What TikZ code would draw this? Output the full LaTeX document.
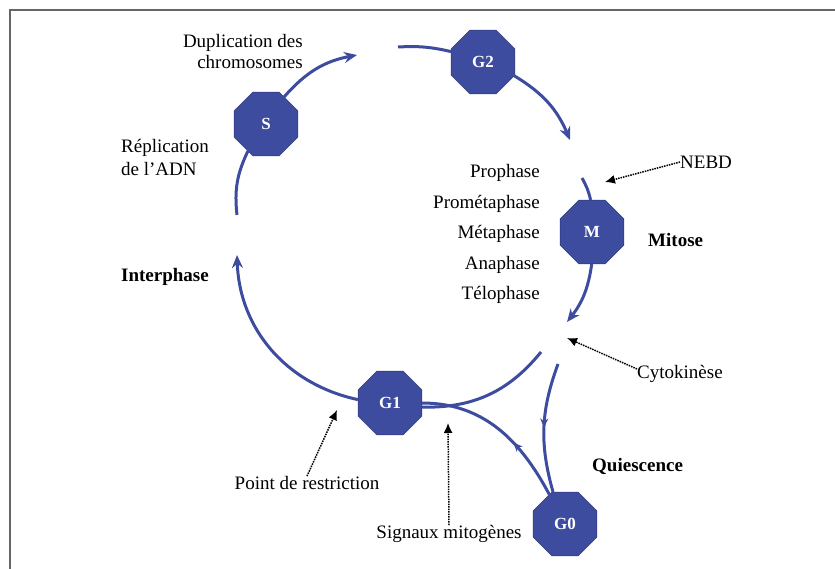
\documentclass[tikz,border=0pt]{standalone}
\usepackage{tikz}
\usepackage{xcolor}
\usepackage{fontspec}
\setmainfont{Liberation Serif}
\usetikzlibrary{arrows.meta,shapes.geometric,decorations.markings}

\definecolor{cycleblue}{RGB}{62,76,160}

\begin{document}
\begin{tikzpicture}[
		x=1pt, y=1pt,
		phase/.style={regular polygon, regular polygon sides=8, minimum size=69pt, inner sep=0pt,
				fill=cycleblue, draw=cycleblue!70!black, text=white, font=\fontsize{17}{20}\selectfont\bfseries},
		txt/.style={inner sep=0pt, font=\fontsize{19}{21}\selectfont},
		boldtxt/.style={inner sep=0pt, font=\fontsize{19}{21}\selectfont\bfseries},
		link/.style={draw=cycleblue, line width=3pt},
		flow/.style={link, -{Stealth[length=13pt,width=11pt]}},
		midarrow/.style={link, postaction={decorate},
				decoration={markings, mark=at position #1 with {\arrow{Stealth[length=9pt,width=8pt]}}}},
		pointer/.style={draw=black, densely dotted, line width=1.5pt, -{Latex[length=10pt,width=9pt]}}
	]
		\useasboundingbox (0,0) rectangle (835,-569);
		\draw[black!60, line width=2pt] (835,-10) -| (10,-569);

		% the phases
		\node[phase] (S) at (266,-124) {S};
		\node[phase] (G2) at (483,-62) {G2};
		\node[phase] (M) at (592,-232) {M};
		\node[phase] (G1) at (390,-403) {G1};
		\node[phase] (G0) at (565,-524) {G0};

		% free ends of the cycle
		\coordinate (sEnd) at (357,-55);
		\coordinate (g2Start) at (398,-47);
		\coordinate (g2End) at (570,-140);
		\coordinate (mStart) at (582,-178);
		\coordinate (mEnd) at (567,-322);
		\coordinate (g1Start) at (541,-352);
		\coordinate (g0Start) at (558,-364);
		\coordinate (g1End) at (237,-255);
		\coordinate (sStart) at (237,-215);

		\draw[flow] (S) to[bend left=19] (sEnd);
		\draw[link] (g2Start) to[bend left=8] (G2);
		\draw[flow] (G2) to[bend left=18] (g2End);
		\draw[link] (mStart) to[bend left=8] (M);
		\draw[flow] (M) to[bend left=15] (mEnd);
		\draw[link] (g1Start) to[bend left=26] (G1);
		\draw[flow] (G1) to[bend left=38] (g1End);
		\draw[link] (sStart) to[bend left=16] (S);
		\draw[midarrow=0.5] (g0Start) to[bend right=18] (G0);
		\draw[midarrow=0.38] (G0) to[out=118,in=0] (G1.east);

		% labels
		\node[txt, anchor=east, align=right] (dupl) at (303,-52) {Duplication des\\chromosomes};
		\node[txt, anchor=west, align=left] (repl) at (121,-157) {Réplication\\[2pt]de l'ADN};
		\node[boldtxt, anchor=west] (inter) at (121,-277) {Interphase};
		\node[boldtxt, anchor=west] (mitose) at (648,-240) {Mitose};
		\node[boldtxt, anchor=west] (quies) at (592,-466) {Quiescence};
		\foreach \stage [count=\i] in {Prophase, Prométaphase, Métaphase, Anaphase, Télophase}
			\node[txt, anchor=base east] (stage\i) at (540,-147.5-30.5*\i) {\stage};

		\node[txt, anchor=west] (nebd) at (680,-162) {NEBD};
		\node[txt, anchor=west] (cyto) at (637,-374) {Cytokinèse};
		\node[txt] (restr) at (307,-483) {Point de restriction};
		\node[txt] (signaux) at (449,-534) {Signaux mitogènes};

		\coordinate (nebdTip) at (605,-182);
		\coordinate (cytoTip) at (567,-338);
		\coordinate (restrTip) at (337,-410);
		\coordinate (signauxTip) at (448,-423);

		\draw[pointer] (nebd.west) -- (nebdTip);
		\draw[pointer] ([yshift=5pt]cyto.west) -- (cytoTip);
		\draw[pointer] (restr.north) -- (restrTip);
		\draw[pointer] (signaux.north) -- (signauxTip);
	\end{tikzpicture}
\end{document}
